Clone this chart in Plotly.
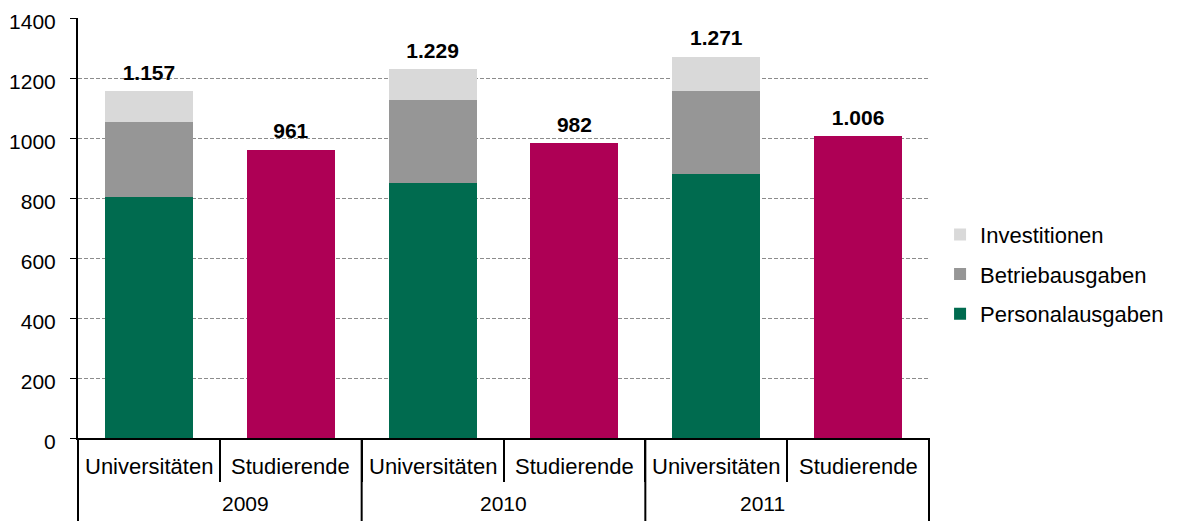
import plotly.graph_objects as go

years = ["2009", "2010", "2011"]
groups = ["Universitäten", "Studierende"]

personal = [804, 851, 880]
betrieb = [248, 277, 277]
invest = [105, 101, 114]
studierende = [961, 982, 1006]
uni_total_labels = ["1.157", "1.229", "1.271"]
stud_labels = ["961", "982", "1.006"]

# one category per (year, group); the two-row axis labels are drawn below
uni_x = [f"{y} {groups[0]}" for y in years]
stud_x = [f"{y} {groups[1]}" for y in years]
all_x = [f"{y} {g}" for y in years for g in groups]

FONT = "Liberation Sans, Arial, sans-serif"
LABEL_FONT = dict(size=21, color="black", family=FONT, weight="bold")

fig = go.Figure()
fig.add_trace(go.Bar(x=all_x, y=[None] * len(all_x), showlegend=False, hoverinfo="skip"))
fig.add_trace(go.Bar(x=uni_x, y=personal, name="Personalausgaben", legendrank=3,
                     marker=dict(color="#006B4F", line=dict(width=0)), legendgroup="p"))
fig.add_trace(go.Bar(x=uni_x, y=betrieb, name="Betriebausgaben", legendrank=2,
                     marker=dict(color="#969696", line=dict(width=0)), legendgroup="b"))
fig.add_trace(go.Bar(x=uni_x, y=invest, name="Investitionen", legendrank=1,
                     marker=dict(color="#D9D9D9", line=dict(width=0)), legendgroup="i"))
fig.add_trace(go.Bar(x=stud_x, y=studierende, showlegend=False,
                     marker=dict(color="#AE0055", line=dict(width=0))))

uni_totals = [p + b + i for p, b, i in zip(personal, betrieb, invest)]
# invisible markers push the value labels a bit above the bar tops
for xs, ys, labels in [(uni_x, uni_totals, uni_total_labels), (stud_x, studierende, stud_labels)]:
    fig.add_trace(go.Scatter(x=xs, y=ys, mode="markers+text", text=labels,
                             marker=dict(size=8, opacity=0), textposition="top center",
                             showlegend=False, cliponaxis=False, hoverinfo="skip",
                             textfont=LABEL_FONT))

# inner row: group names under each bar
for cat in all_x:
    fig.add_annotation(x=cat, xref="x", y=-0.069, yref="paper", yanchor="middle",
                       text=cat.split(" ", 1)[1], showarrow=False,
                       font=dict(size=22, family=FONT, color="black"))
# outer row: years centred under each pair, plus full-height dividers
n = len(years)
for i, yr in enumerate(years):
    fig.add_annotation(x=(2 * i + 1) / (2 * n), xref="x domain", y=-0.155, yref="paper",
                       yanchor="middle", text=yr, showarrow=False,
                       font=dict(size=21, family=FONT, color="black"))
for i in range(n + 1):
    fig.add_shape(type="line", xref="x domain", yref="paper", x0=i / n, x1=i / n,
                  y0=0, y1=-0.22, line=dict(color="black", width=2))

fig.update_layout(
    width=1180, height=521,
    barmode="stack", bargap=0.38,
    plot_bgcolor="white", paper_bgcolor="white",
    margin=dict(l=70, r=259, t=10, b=91),
    font=dict(family=FONT, size=21, color="black"),
    legend=dict(x=1.013, y=0.39, xanchor="left", yanchor="middle",
                traceorder="grouped", tracegroupgap=8,
                font=dict(size=22), itemwidth=30),
)
fig.update_yaxes(range=[0, 1400], dtick=200, showgrid=True, gridcolor="#8c8c8c",
                 griddash="4px,2px", gridwidth=1, showline=True, linecolor="black",
                 linewidth=2, ticks="outside", ticklen=6, tickcolor="black",
                 ticklabelstandoff=10, ticklabelshift=4, ticklabeloverflow="allow",
                 zeroline=False, automargin=False)
fig.update_xaxes(type="category", categoryorder="array", categoryarray=all_x,
                 showline=True, linecolor="black", linewidth=2,
                 showticklabels=False, ticks="outside", tickson="boundaries",
                 ticklen=42, tickcolor="black", tickwidth=2, automargin=False)

fig.write_html("out.html")
